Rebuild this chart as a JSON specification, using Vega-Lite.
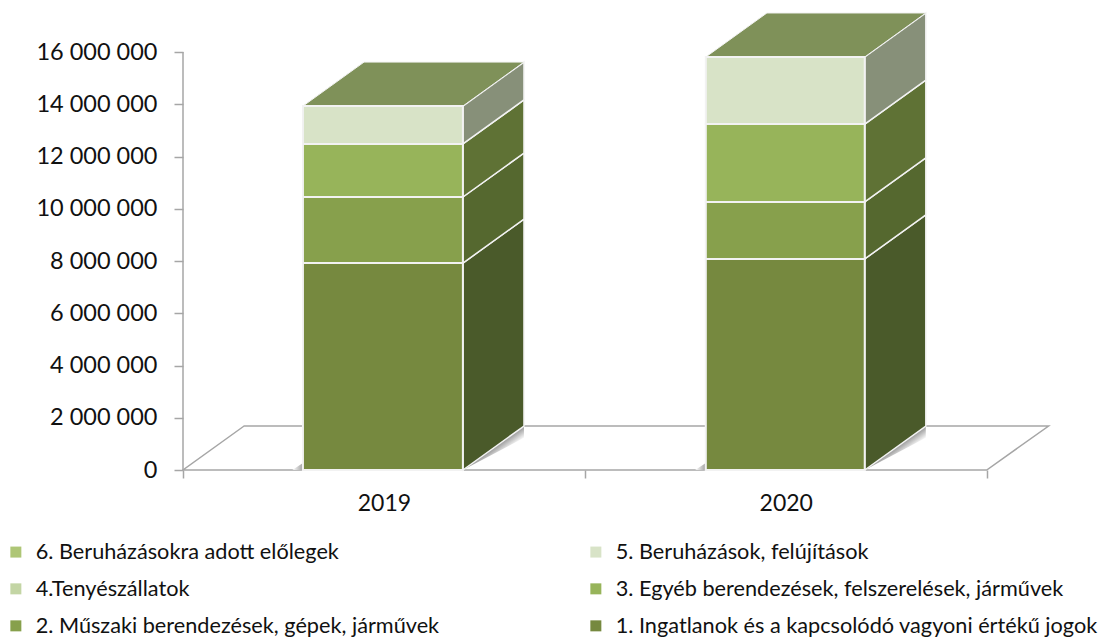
{
"$schema":"https://vega.github.io/schema/vega-lite/v6.json",
"autosize":"none",
"padding":{"left":183,"top":13,"right":58,"bottom":168},
"width":868,"height":457,
"background":"white",
"config":{"view":{"stroke":null},"font":"Lato"},
"datasets":{
"floor":[{"x":0,"x2":2,"y":0},{"x":0.152,"x2":2.154,"y":1684000}],
"axisline":[{"x":0,"y":0,"y2":16000000}],
"shadowRight":[
{"year":2019,"x":0.6965,"lo":0,"hi":0},{"year":2019,"x":0.8485,"lo":1230000,"hi":1684000},
{"year":2020,"x":1.6965,"lo":0,"hi":0},{"year":2020,"x":1.8485,"lo":1230000,"hi":1684000}],
"shadowLeft":[
{"year":2019,"x":0.272,"lo":0,"hi":0},{"year":2019,"x":0.2985,"lo":0,"hi":270000},
{"year":2020,"x":1.2745,"lo":0,"hi":0},{"year":2020,"x":1.301,"lo":0,"hi":270000}],
"bars":[
{"year":2019,"series":"1. Ingatlanok és a kapcsolódó vagyoni értékű jogok","x":0.2985,"x2":0.6965,"lo":0,"hi":7920000},
{"year":2019,"series":"2. Műszaki berendezések, gépek, járművek","x":0.2985,"x2":0.6965,"lo":7920000,"hi":10450000},
{"year":2019,"series":"3. Egyéb berendezések, felszerelések, járművek","x":0.2985,"x2":0.6965,"lo":10450000,"hi":12480000},
{"year":2019,"series":"5. Beruházások, felújítások","x":0.2985,"x2":0.6965,"lo":12480000,"hi":13930000},
{"year":2020,"series":"1. Ingatlanok és a kapcsolódó vagyoni értékű jogok","x":1.301,"x2":1.6965,"lo":0,"hi":8080000},
{"year":2020,"series":"2. Műszaki berendezések, gépek, járművek","x":1.301,"x2":1.6965,"lo":8080000,"hi":10260000},
{"year":2020,"series":"3. Egyéb berendezések, felszerelések, járművek","x":1.301,"x2":1.6965,"lo":10260000,"hi":13240000},
{"year":2020,"series":"5. Beruházások, felújítások","x":1.301,"x2":1.6965,"lo":13240000,"hi":15810000}
],
"sides":[
{"year":2019,"s":"1","x":0.6965,"lo":0,"hi":7920000},{"year":2019,"s":"1","x":0.8485,"lo":1684000,"hi":9604000},
{"year":2019,"s":"2","x":0.6965,"lo":7920000,"hi":10450000},{"year":2019,"s":"2","x":0.8485,"lo":9604000,"hi":12134000},
{"year":2019,"s":"3","x":0.6965,"lo":10450000,"hi":12480000},{"year":2019,"s":"3","x":0.8485,"lo":12134000,"hi":14164000},
{"year":2019,"s":"5","x":0.6965,"lo":12480000,"hi":13930000},{"year":2019,"s":"5","x":0.8485,"lo":14164000,"hi":15614000},
{"year":2020,"s":"1","x":1.6965,"lo":0,"hi":8080000},{"year":2020,"s":"1","x":1.8485,"lo":1684000,"hi":9764000},
{"year":2020,"s":"2","x":1.6965,"lo":8080000,"hi":10260000},{"year":2020,"s":"2","x":1.8485,"lo":9764000,"hi":11944000},
{"year":2020,"s":"3","x":1.6965,"lo":10260000,"hi":13240000},{"year":2020,"s":"3","x":1.8485,"lo":11944000,"hi":14924000},
{"year":2020,"s":"5","x":1.6965,"lo":13240000,"hi":15810000},{"year":2020,"s":"5","x":1.8485,"lo":14924000,"hi":17494000}
],
"tops":[
{"year":2019,"x":0.2985,"x2":0.6965,"y":13930000},{"year":2019,"x":0.4505,"x2":0.8485,"y":15614000},
{"year":2020,"x":1.301,"x2":1.6965,"y":15810000},{"year":2020,"x":1.453,"x2":1.8485,"y":17494000}
]
},
"layer":[
{"data":{"name":"floor"},
 "mark":{"type":"area","orient":"horizontal","fill":"white","stroke":"#a6a6a6","strokeWidth":1.5},
 "encoding":{
  "x":{"field":"x","type":"quantitative","title":null,"scale":{"domain":[0,2.16],"nice":false,"zero":false},
   "axis":{"values":[0,0.5,1,1.5,2],"domain":false,"grid":false,"tickColor":"#a6a6a6","tickWidth":1.5,"tickSize":8,
    "tickOpacity":{"condition":{"test":"datum.value==0.5||datum.value==1.5","value":0},"value":1},
    "labelExpr":"datum.value==0.5?'2019':datum.value==1.5?'2020':''","labelFont":"Lato","labelFontSize":23,"labelColor":"#111111","labelPadding":14,"labelOverlap":false,"labelFlush":false}},
  "x2":{"field":"x2"},
  "y":{"field":"y","type":"quantitative","title":null,"scale":{"domain":[0,17493000],"nice":false},
   "axis":{"values":[0,2000000,4000000,6000000,8000000,10000000,12000000,14000000,16000000],"domain":false,"grid":false,"tickColor":"#a6a6a6","tickWidth":1.5,"tickSize":9,
    "labelExpr":"replace(format(datum.value,','),/,/g,' ')","labelFont":"Lato","labelFontSize":23.5,"labelColor":"#111111","labelPadding":17,"labelOverlap":false}}
 }},
{"data":{"name":"axisline"},
 "mark":{"type":"rule","stroke":"#a6a6a6","strokeWidth":1.5},
 "encoding":{"x":{"field":"x","type":"quantitative","title":null},"y":{"field":"y","type":"quantitative","title":null},"y2":{"field":"y2"}}},
{"data":{"name":"shadowRight"},
 "mark":{"type":"area","orient":"vertical","fill":{"gradient":"linear","x1":0,"y1":0,"x2":1,"y2":1,"stops":[{"offset":0,"color":"#999999"},{"offset":0.5,"color":"#999999"},{"offset":0.64,"color":"#ffffff"},{"offset":1,"color":"#ffffff"}]}},
 "encoding":{"x":{"field":"x","type":"quantitative","title":null},"y":{"field":"lo","type":"quantitative","title":null},"y2":{"field":"hi"},"detail":{"field":"year"}}},
{"data":{"name":"shadowLeft"},
 "mark":{"type":"area","orient":"vertical","fill":{"gradient":"linear","x1":0,"y1":0,"x2":1,"y2":0,"stops":[{"offset":0,"color":"#ffffff"},{"offset":1,"color":"#a0a0a0"}]}},
 "encoding":{"x":{"field":"x","type":"quantitative","title":null},"y":{"field":"lo","type":"quantitative","title":null},"y2":{"field":"hi"},"detail":{"field":"year"}}},
{"data":{"name":"sides"},
 "mark":{"type":"area","stroke":"#f2f2f2","strokeWidth":1.5,"orient":"vertical"},
 "encoding":{"x":{"field":"x","type":"quantitative","title":null},"y":{"field":"lo","type":"quantitative","title":null},"y2":{"field":"hi"},
  "detail":{"field":"year"},
  "color":{"field":"s","type":"nominal","legend":null,"scale":{"domain":["1","2","3","5"],"range":["#4a5a2a","#55682f","#5f7235","#879079"]}}}},
{"data":{"name":"tops"},
 "mark":{"type":"area","orient":"horizontal","fill":"#7f9159","stroke":"#f2f2f2","strokeWidth":1},
 "encoding":{"x":{"field":"x","type":"quantitative","title":null},"x2":{"field":"x2"},"y":{"field":"y","type":"quantitative","title":null},"detail":{"field":"year"}}},
{"data":{"name":"bars"},
 "mark":{"type":"rect","stroke":"#f2f2f2","strokeWidth":2},
 "encoding":{"x":{"field":"x","type":"quantitative","title":null},"x2":{"field":"x2"},"y":{"field":"lo","type":"quantitative","title":null},"y2":{"field":"hi"},
  "color":{"field":"series","type":"nominal","title":null,
   "scale":{"domain":["6. Beruházásokra adott előlegek","5. Beruházások, felújítások","4.Tenyészállatok","3. Egyéb berendezések, felszerelések, járművek","2. Műszaki berendezések, gépek, járművek","1. Ingatlanok és a kapcsolódó vagyoni értékű jogok"],
    "range":["#aec676","#d8e3c7","#c3d5a4","#97b45a","#87a04c","#76893f"]},
   "legend":{"orient":"none","legendX":-178,"legendY":528,"columns":2,"direction":"horizontal","symbolType":"square","symbolSize":121,"symbolStrokeWidth":0,"labelFont":"Lato","labelFontSize":21.7,"labelColor":"#111111","labelLimit":700,"rowPadding":14,"columnPadding":145,"labelOffset":9}}}}
],
"resolve":{"scale":{"color":"independent"},"legend":{"color":"independent"}}
}
